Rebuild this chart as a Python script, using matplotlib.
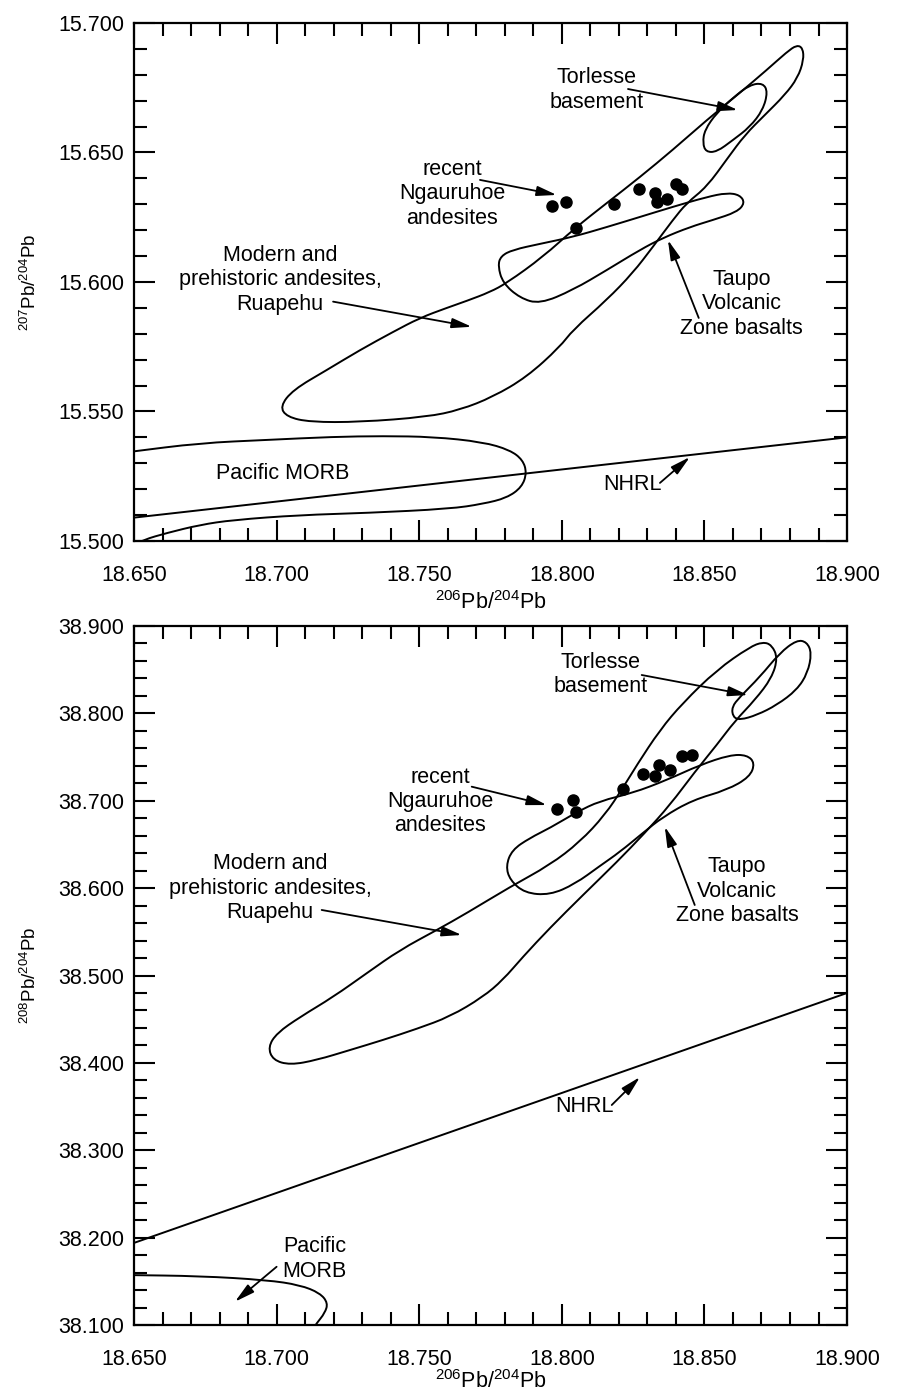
import numpy as np
import matplotlib
matplotlib.use('Agg')
import matplotlib.pyplot as plt
from matplotlib.path import Path
from matplotlib.patches import PathPatch
from matplotlib.ticker import MultipleLocator, FormatStrFormatter

plt.rcParams['font.family'] = ['Liberation Sans', 'DejaVu Sans']
plt.rcParams['mathtext.default'] = 'regular'

# ---- samples: recent Ngauruhoe andesites ----
ng_206_a = [18.7965, 18.8016, 18.8048, 18.8184, 18.8269, 18.8325, 18.8332, 18.8369, 18.8399, 18.8420]
ng_207 = [15.6295, 15.6310, 15.6207, 15.6300, 15.6359, 15.6342, 15.6309, 15.6320, 15.6378, 15.6359]
ng_206_b = [18.7984, 18.8040, 18.8048, 18.8216, 18.8285, 18.8326, 18.8341, 18.8381, 18.8420, 18.8457]
ng_208 = [38.6906, 38.7012, 38.6871, 38.7138, 38.7306, 38.7283, 38.7413, 38.7348, 38.7512, 38.7527]

# ---- 207/204 panel fields ----
ruap_a_x = [18.7012, 18.7057, 18.7176, 18.7292, 18.7408, 18.7502, 18.7597, 18.7667, 18.7748, 18.7807,
            18.7934, 18.8046, 18.8158, 18.8274, 18.8389, 18.8508, 18.8624, 18.8719, 18.8789, 18.8824,
            18.8845, 18.8848, 18.8827, 18.8782, 18.8712, 18.8642, 18.8582, 18.8508, 18.8438, 18.8389,
            18.8319, 18.8249, 18.8158, 18.8039, 18.7993, 18.7877, 18.7758, 18.7643, 18.7527, 18.7292,
            18.7117, 18.7036]
ruap_a_y = [15.5519, 15.5583, 15.5660, 15.5737, 15.5807, 15.5861, 15.5900, 15.5927, 15.5961, 15.5996,
            15.6097, 15.6208, 15.6305, 15.6405, 15.6510, 15.6625, 15.6730, 15.6819, 15.6888, 15.6915,
            15.6903, 15.6857, 15.6788, 15.6722, 15.6645, 15.6568, 15.6479, 15.6367, 15.6305, 15.6239,
            15.6135, 15.6035, 15.5931, 15.5815, 15.5749, 15.5633, 15.5556, 15.5506, 15.5479, 15.5459,
            15.5459, 15.5479]

torl_a_x = [18.8494, 18.8501, 18.8543, 18.8603, 18.8659, 18.8705, 18.8722, 18.8705, 18.8659, 18.8600, 18.8543, 18.8505]
torl_a_y = [15.6537, 15.6587, 15.6653, 15.6714, 15.6761, 15.6768, 15.6734, 15.6664, 15.6598, 15.6548, 15.6502, 15.6502]

taupo_a_x = [18.7776, 18.7786, 18.7828, 18.7923, 18.8039, 18.8158, 18.8274, 18.8389, 18.8508, 18.8579, 18.8624,
             18.8642, 18.8614, 18.8529, 18.8449, 18.8354, 18.8274, 18.8158, 18.8039, 18.7923, 18.7853, 18.7793]
taupo_a_y = [15.6062, 15.6100, 15.6124, 15.6147, 15.6174, 15.6212, 15.6251, 15.6290, 15.6328, 15.6344, 15.6336,
             15.6305, 15.6270, 15.6239, 15.6212, 15.6170, 15.6124, 15.6046, 15.5969, 15.5915, 15.5938, 15.5996]

morb_a_x = [18.6486, 18.6731, 18.6966, 18.7198, 18.7373, 18.7548, 18.7723, 18.7818, 18.7863, 18.7877, 18.7860,
            18.7807, 18.7723, 18.7608, 18.7317, 18.7082, 18.6847, 18.6731, 18.6616, 18.6532, 18.6479]
morb_a_y = [15.5344, 15.5378, 15.5390, 15.5402, 15.5405, 15.5402, 15.5382, 15.5351, 15.5313, 15.5263, 15.5208,
            15.5166, 15.5143, 15.5124, 15.5108, 15.5100, 15.5081, 15.5062, 15.5031, 15.5004, 15.4973]

nhrl_x = [18.65, 18.90]
nhrl_207 = [15.509, 15.540]

# ---- 208/204 panel fields ----
ruap_b_x = [18.6970, 18.7001, 18.7082, 18.7198, 18.7317, 18.7432, 18.7562, 18.7667, 18.7818, 18.7958, 18.8063,
            18.8151, 18.8214, 18.8263, 18.8344, 18.8424, 18.8543, 18.8659, 18.8705, 18.8736, 18.8757, 18.8736,
            18.8677, 18.8607, 18.8543, 18.8466, 18.8379, 18.8291, 18.8193, 18.8074, 18.7958, 18.7863, 18.7793,
            18.7723, 18.7608, 18.7492, 18.7373, 18.7257, 18.7141, 18.7047, 18.6987]
ruap_b_y = [38.4182, 38.4342, 38.4525, 38.4754, 38.5029, 38.5292, 38.5521, 38.5715, 38.6013, 38.6265, 38.6528,
            38.6837, 38.7146, 38.7409, 38.7810, 38.8119, 38.8496, 38.8760, 38.8817, 38.8783, 38.8634, 38.8405,
            38.8153, 38.7913, 38.7638, 38.7329, 38.6951, 38.6631, 38.6299, 38.5921, 38.5544, 38.5212, 38.4948,
            38.4754, 38.4530, 38.4390, 38.4262, 38.4147, 38.4033, 38.3976, 38.4033]

torl_b_x = [18.8600, 18.8596, 18.8624, 18.8694, 18.8764, 18.8824, 18.8859, 18.8876, 18.8862, 18.8824, 18.8754, 18.8684, 18.8624]
torl_b_y = [38.7959, 38.8073, 38.8187, 38.8416, 38.8691, 38.8840, 38.8817, 38.8691, 38.8462, 38.8268, 38.8096, 38.7981, 38.7924]

taupo_b_x = [18.7804, 18.7825, 18.7888, 18.7958, 18.8053, 18.8133, 18.8249, 18.8368, 18.8484, 18.8589, 18.8649, 18.8677,
             18.8659, 18.8579, 18.8459, 18.8354, 18.8284, 18.8203, 18.8133, 18.8046, 18.7958, 18.7870, 18.7818]
taupo_b_y = [38.6253, 38.6436, 38.6574, 38.6688, 38.6871, 38.6997, 38.7089, 38.7237, 38.7409, 38.7524, 38.7524, 38.7432,
             38.7272, 38.7123, 38.7009, 38.6814, 38.6631, 38.6413, 38.6253, 38.6047, 38.5921, 38.5944, 38.6093]

morb_b_x = [18.6479, 18.6731, 18.6966, 18.7082, 18.7152, 18.7180, 18.7169, 18.7141, 18.7120]
morb_b_y = [38.1572, 38.1561, 38.1515, 38.1458, 38.1366, 38.1252, 38.1137, 38.1023, 38.0920]

nhrl_208 = [38.194, 38.480]


def smooth_path(xs, ys, closed=True):
    pts = np.column_stack([xs, ys])
    n = len(pts)
    if closed:
        mids = (pts + np.roll(pts, -1, axis=0)) / 2
        verts = [mids[-1]]
        codes = [Path.MOVETO]
        for i in range(n):
            verts += [pts[i], mids[i]]
            codes += [Path.CURVE3, Path.CURVE3]
    else:
        mids = (pts[:-1] + pts[1:]) / 2
        verts = [pts[0], mids[0]]
        codes = [Path.MOVETO, Path.LINETO]
        for i in range(1, n - 1):
            verts += [pts[i], mids[i]]
            codes += [Path.CURVE3, Path.CURVE3]
        verts.append(pts[-1])
        codes.append(Path.LINETO)
    return Path(verts, codes)


def outline(ax, xs, ys, closed=True):
    ax.add_patch(PathPatch(smooth_path(xs, ys, closed), fill=False, ec='black', lw=1.4))


def label(ax, text, txy, tail=None, tip=None):
    ax.text(txy[0], txy[1], text, ha='center', va='center', fontsize=15.5, linespacing=1.2)
    if tail is not None:
        ax.annotate('', xy=tip, xytext=tail,
                    arrowprops=dict(arrowstyle='-|>,head_length=1.2,head_width=0.3',
                                    color='black', lw=1.3, shrinkA=0, shrinkB=0))


def style_axes(ax, ylim, ymajor, yminor, xlabelpad):
    ax.set_xlim(18.65, 18.90)
    ax.set_ylim(*ylim)
    ax.xaxis.set_major_locator(MultipleLocator(0.05))
    ax.xaxis.set_minor_locator(MultipleLocator(0.01))
    ax.yaxis.set_major_locator(MultipleLocator(ymajor))
    ax.yaxis.set_minor_locator(MultipleLocator(yminor))
    ax.xaxis.set_major_formatter(FormatStrFormatter('%.3f'))
    ax.yaxis.set_major_formatter(FormatStrFormatter('%.3f'))
    ax.tick_params(which='both', direction='in', top=True, right=True, width=1.5, labelsize=15.5)
    ax.tick_params(which='major', length=15)
    ax.tick_params(which='minor', length=9.5)
    ax.tick_params(axis='x', pad=17)
    ax.tick_params(axis='y', pad=7)
    for s in ax.spines.values():
        s.set_linewidth(1.6)
    ax.set_xlabel(r'$^{206}$Pb/$^{204}$Pb', fontsize=15.5, labelpad=xlabelpad)


fig = plt.figure(figsize=(8.97, 13.92), dpi=100)
ax1 = fig.add_axes([0.1494, 0.6114, 0.7949, 0.3721])
ax2 = fig.add_axes([0.1494, 0.0481, 0.7949, 0.5022])

# top panel
outline(ax1, ruap_a_x, ruap_a_y)
outline(ax1, torl_a_x, torl_a_y)
outline(ax1, taupo_a_x, taupo_a_y)
outline(ax1, morb_a_x, morb_a_y, closed=False)
ax1.plot(nhrl_x, nhrl_207, color='black', lw=1.4)
ax1.scatter(ng_206_a, ng_207, s=64, color='black', zorder=5)
style_axes(ax1, (15.50, 15.70), 0.05, 0.01, 4)
ax1.set_ylabel(r'$^{207}$Pb/$^{204}$Pb', fontsize=13.5, labelpad=13)

label(ax1, 'Torlesse\nbasement', (18.8123, 15.6741), (18.8232, 15.6745), (18.8617, 15.6664))
label(ax1, 'recent\nNgauruhoe\nandesites', (18.7615, 15.6340), (18.7713, 15.6394), (18.7982, 15.6336))
label(ax1, 'Modern and\nprehistoric andesites,\nRuapehu', (18.7012, 15.6008), (18.7198, 15.5924), (18.7684, 15.5827))
label(ax1, 'Taupo\nVolcanic\nZone basalts', (18.8631, 15.5915), (18.8480, 15.5861), (18.8372, 15.6162))
label(ax1, 'Pacific MORB', (18.7023, 15.5261))
label(ax1, 'NHRL', (18.8249, 15.5216), (18.8344, 15.5224), (18.8449, 15.5324))

# bottom panel
outline(ax2, ruap_b_x, ruap_b_y)
outline(ax2, torl_b_x, torl_b_y)
outline(ax2, taupo_b_x, taupo_b_y)
outline(ax2, morb_b_x, morb_b_y, closed=False)
ax2.plot(nhrl_x, nhrl_208, color='black', lw=1.4)
ax2.scatter(ng_206_b, ng_208, s=64, color='black', zorder=5)
style_axes(ax2, (38.10, 38.90), 0.1, 0.02, 0)
ax2.set_ylabel(r'$^{208}$Pb/$^{204}$Pb', fontsize=13.5, labelpad=13)

label(ax2, 'Torlesse\nbasement', (18.8137, 38.8445), (18.8280, 38.8439), (18.8653, 38.8210))
label(ax2, 'recent\nNgauruhoe\nandesites', (18.7573, 38.6989), (18.7684, 38.7161), (18.7947, 38.6951))
label(ax2, 'Modern and\nprehistoric andesites,\nRuapehu', (18.6977, 38.6001), (18.7158, 38.5750), (18.7649, 38.5464))
label(ax2, 'Taupo\nVolcanic\nZone basalts', (18.8614, 38.5967), (18.8466, 38.5807), (18.8361, 38.6703))
label(ax2, 'NHRL', (18.8081, 38.3498), (18.8175, 38.3518), (18.8274, 38.3838))
label(ax2, 'Pacific\nMORB', (18.7134, 38.1755), (18.7000, 38.1667), (18.6854, 38.1267))

fig.savefig('out.png', dpi=100)
